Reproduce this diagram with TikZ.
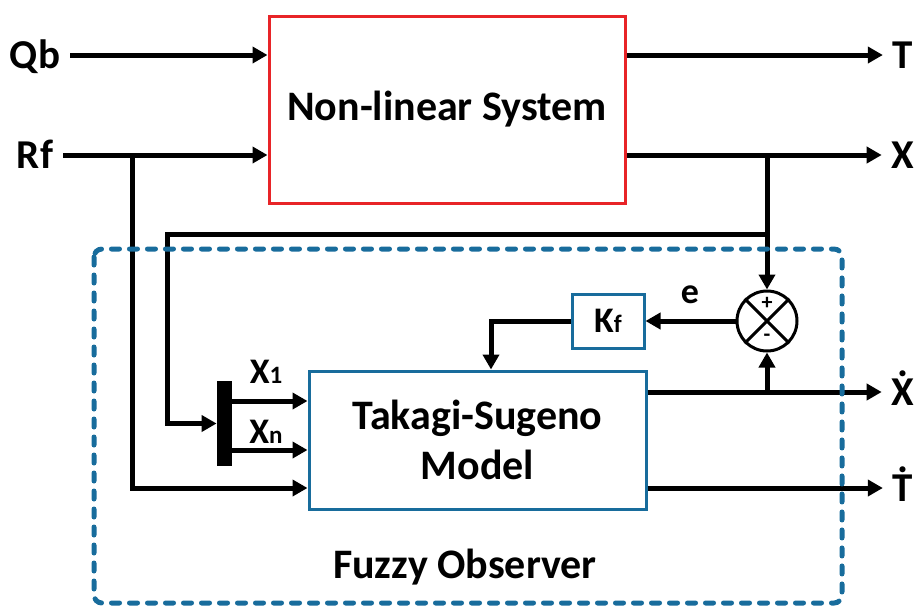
\documentclass[tikz,border=0pt]{standalone}
\usepackage{fontspec}
\setmainfont{Carlito}
\usetikzlibrary{arrows.meta}

\definecolor{sysred}{RGB}{232,36,40}
\definecolor{obsblue}{RGB}{24,108,156}
\newcommand{\lowtxt}[1]{{\fontsize{12.5}{12.5}\selectfont #1}}
\newcommand{\dotlbl}[1]{\leavevmode\vbox{\offinterlineskip\halign{\hfil##\hfil\cr.\cr\noalign{\kern1pt}#1\cr}}}

\begin{document}
\begin{tikzpicture}[x=0.5pt, y=-0.5pt,
		io/.style  = {font=\fontsize{20.5}{24}\selectfont\bfseries, text height=13pt, text depth=0pt, inner sep=1pt, outer sep=4pt},
		sml/.style = {font=\fontsize{18}{22}\selectfont\bfseries, inner sep=0pt},
		blk/.style = {rectangle, draw=#1, line width=1.5pt, fill=white, align=center, font=\fontsize{21}{25}\selectfont\bfseries},
		a/.style   = {-{Triangle[length=7.5pt,width=8pt]}, line width=2.5pt},
		fo/.style  = {draw=obsblue, line width=2.5pt, dash pattern=on 4pt off 5pt, line cap=round, rounded corners=4pt}
		]
		\useasboundingbox (0,0) rectangle (918,607);
		
		% === === Nodes === ===
		\node[blk=sysred, minimum width=178pt, minimum height=93.5pt]	(sys)	at	(447, 109.5)	{Non-linear System};
		\node[blk=obsblue, minimum width=168.5pt, minimum height=69pt]	(ts)	at	(477.5, 440)	{Takagi-Sugeno\\Model};
		\node[blk=obsblue, minimum width=36pt, minimum height=27pt, font=\fontsize{18}{22}\selectfont\bfseries]	(kf)	at	(608, 321)	{K\lowtxt{f}};
		\node[circle, draw, line width=1.5pt, minimum size=30pt, inner sep=0pt]	(sum)	at	(767, 321)	{};
		\node[rectangle, fill=black, minimum width=7.5pt, minimum height=42.5pt, inner sep=0pt]	(demux)	at	(224.5, 423.5)	{};
		
		\node[io]	(qb)	at	(35, 55)		{Qb};
		\node[io]	(rf)	at	(35, 155)		{Rf};
		\node[io]	(t)		at	(903, 55)		{T};
		\node[io]	(x)		at	(903, 155)		{X};
		\node[io]	(xd)	at	(903, 392)		{\dotlbl{X}};
		\node[io]	(td)	at	(903, 488)		{\dotlbl{T}};
		
		\node[sml, anchor=base]	(x1)	at	(266, 383)	{X\lowtxt{1}};
		\node[sml, anchor=base]	(xn)	at	(266, 443)	{X\lowtxt{n}};
		\node[sml, anchor=base]	(e)		at	(690, 303)	{e};
		\node[blk=white, draw=none, fill=none]	(fo)	at	(465, 567)	{Fuzzy Observer};
		
		\coordinate	(rfj)	at	(132, 155);
		\coordinate	(fbj)	at	(767, 234);
		\coordinate	(fbc)	at	(167, 234);
		\coordinate	(x1r)	at	(0, 401);
		\coordinate	(xnr)	at	(0, 450);
		\coordinate	(kfd)	at	(491, 0);
		
		% === === Lines === ===
		\draw[a]	(qb)				--	(qb -| sys.west);
		\draw[a]	(rf)				--	(rf -| sys.west);
		\draw[a]	(sys.east |- t)		--	(t);
		\draw[a]	(sys.east |- x)		--	(x);
		
		\draw[a]	(rfj)				|-	(ts.west |- td);
		\draw[a]	(sum.north |- x)	--	(sum.north);
		\draw[a]	(fbj)	--	(fbc)	|-	(demux.west);
		\draw[a]	(demux.east |- x1r)	--	(ts.west |- x1r);
		\draw[a]	(demux.east |- xnr)	--	(ts.west |- xnr);
		
		\draw[a]	(sum.west)			--	(kf.east);
		\draw[a]	(kf.west)			-|	(kfd |- ts.north);
		
		\draw[a]	(ts.east |- xd)		--	(xd);
		\draw[a]	(sum.south |- xd)	--	(sum.south);
		\draw[a]	(ts.east |- td)		--	(td);
		
		% summing junction
		\draw[line width=1.5pt]	(sum.north west) -- (sum.south east) (sum.north east) -- (sum.south west);
		\node[font=\fontsize{11}{11}\selectfont\bfseries, inner sep=0pt]	at	([yshift=9pt]sum.center)	{+};
		\node[font=\fontsize{11}{11}\selectfont\bfseries, inner sep=0pt]	at	([yshift=-8.5pt]sum.center)	{-};
		
		% observer frame
		\draw[fo]	(94, 249)	rectangle	(842, 603);
		
	\end{tikzpicture}
\end{document}
